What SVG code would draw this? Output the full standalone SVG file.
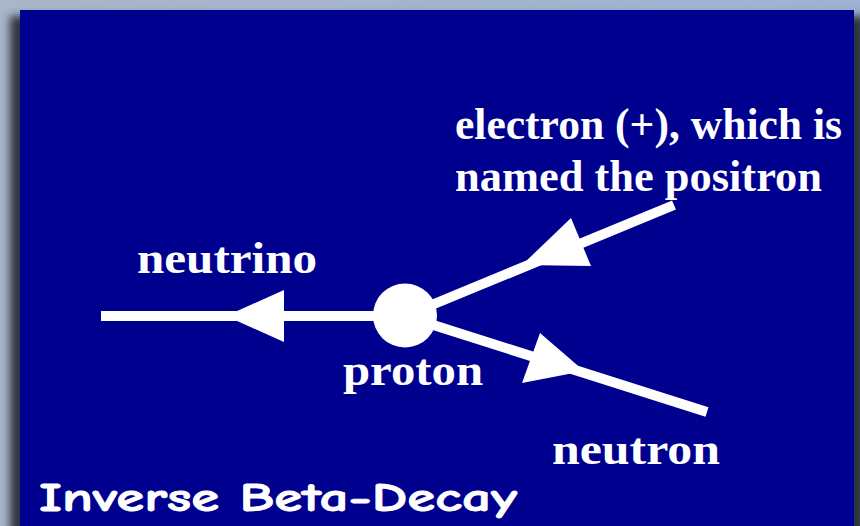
<svg xmlns="http://www.w3.org/2000/svg" width="860" height="526" viewBox="0 0 860 526">
  <defs>
    <linearGradient id="bgGrad" x1="0" y1="0" x2="1" y2="0">
      <stop offset="0" stop-color="#a9b6c9"/>
      <stop offset="1" stop-color="#9fb2d2"/>
    </linearGradient>
    <filter id="shadow" x="-5%" y="-5%" width="110%" height="110%">
      <feGaussianBlur stdDeviation="4"/>
    </filter>
    <style>
      .lbl { font-family: "Liberation Serif", "DejaVu Serif", serif; font-weight: bold; font-size: 44px; fill: #ffffff; }
      .title { font-family: "Comic Sans MS", "Comic Neue", "DejaVu Sans", sans-serif; font-weight: bold; font-size: 40px; fill: #ffffff; stroke: #ffffff; stroke-width: 0.8; }
      .wire { stroke: #ffffff; stroke-width: 10; fill: none; }
      .head { fill: #ffffff; stroke: none; }
    </style>
  </defs>

  <!-- backdrop and panel -->
  <rect x="0" y="0" width="860" height="526" fill="url(#bgGrad)"/>
  <rect x="10" y="16" width="856" height="520" fill="#2e3440" filter="url(#shadow)"/>
  <rect x="20" y="10" width="834" height="520" fill="#00008f"/>

  <g id="connectors">
    <line class="wire" x1="101" y1="316" x2="405" y2="316"/>
    <polygon class="head" points="226,316 284,290 284,342"/>
    <line class="wire" x1="405" y1="316" x2="674" y2="205"/>
    <polygon class="head" points="522,265 571,218 591,266"/>
    <line class="wire" x1="405" y1="316" x2="707" y2="412"/>
    <polygon class="head" points="584,371 540,333 522,383"/>
  </g>

  <g id="proton">
    <circle cx="405" cy="315.5" r="32" fill="#ffffff"/>
    <text class="lbl" x="343" y="385" textLength="140" lengthAdjust="spacingAndGlyphs">proton</text>
  </g>

  <g id="neutrino">
    <text class="lbl" x="137" y="273" textLength="180" lengthAdjust="spacingAndGlyphs">neutrino</text>
  </g>

  <g id="positron">
    <text class="lbl" x="455" y="139" textLength="387" lengthAdjust="spacingAndGlyphs">electron (+), which is</text>
    <text class="lbl" x="455" y="191" textLength="367" lengthAdjust="spacingAndGlyphs">named the positron</text>
  </g>

  <g id="neutron">
    <text class="lbl" x="552" y="464" textLength="168" lengthAdjust="spacingAndGlyphs">neutron</text>
  </g>

  <g id="title">
    <text class="title" x="39" y="511" textLength="478" lengthAdjust="spacingAndGlyphs">Inverse Beta-Decay</text>
  </g>
</svg>
